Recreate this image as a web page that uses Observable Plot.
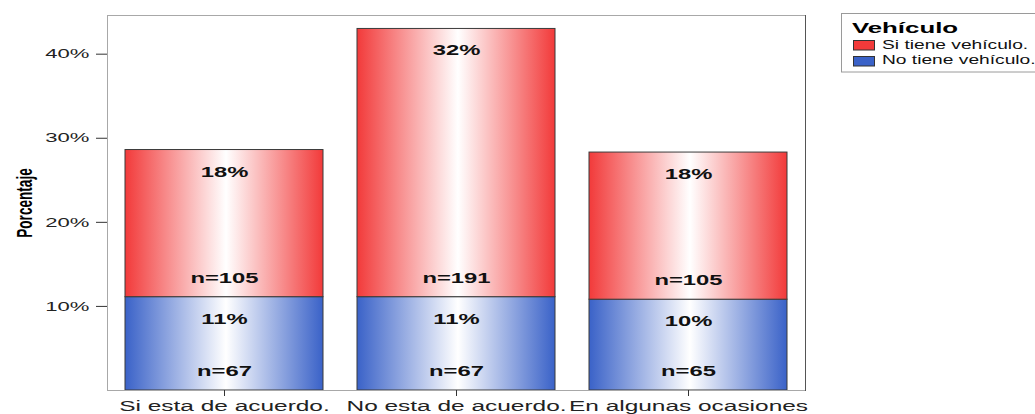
<!DOCTYPE html>
<html>
<head>
<meta charset="utf-8">
<script src="https://cdn.jsdelivr.net/npm/d3@7"></script>
<script src="https://cdn.jsdelivr.net/npm/@observablehq/plot@0.6"></script>
<style>
  body { margin: 0; background: #fff; }
  #wrap { position: relative; width: 1035px; height: 414px; overflow: hidden; font-family: "Liberation Sans", Arial, sans-serif; }
  #chart { position: absolute; left: 0; top: 0; }
  #legend { position: absolute; left: 841px; top: 13px; }
</style>
</head>
<body>
<div id="wrap"><div id="chart"></div><div id="legend"></div></div>
<script>
// ---- data ----
const categories = ["Si esta de acuerdo.", "No esta de acuerdo.", "En algunas ocasiones"];
const seriesNames = ["No tiene vehículo.", "Si tiene vehículo."];
const noTienePct = [11.1, 11.1, 10.8];
const siTienePct = [17.5, 31.9, 17.5];
const noTieneN = [67, 67, 65];
const siTieneN = [105, 191, 105];
const noTieneLabel = ["11%", "11%", "10%"];
const siTieneLabel = ["18%", "32%", "18%"];
const yTicks = [10, 20, 30, 40];
const legendTitle = "Vehículo";
const yLabel = "Porcentaje";

const rows = [];
categories.forEach((c, i) => {
  rows.push({cat: c, series: seriesNames[0], pct: noTienePct[i], n: noTieneN[i], label: noTieneLabel[i], grad: "url(#gradBlue)"});
  rows.push({cat: c, series: seriesNames[1], pct: siTienePct[i], n: siTieneN[i], label: siTieneLabel[i], grad: "url(#gradRed)"});
});

const svg = Plot.plot({
  width: 1035,
  height: 414,
  marginLeft: 107,
  marginRight: 230,
  marginTop: 15,
  marginBottom: 24,
  style: {fontFamily: "'Liberation Sans', Arial, sans-serif", background: "#fff", color: "#222"},
  x: {domain: categories, paddingInner: 0.148, paddingOuter: 0.077, label: null},
  y: {domain: [0, 44.6], label: null},
  color: {type: "identity"},
  marks: [
    Plot.barY(rows, {x: "cat", y: "pct", fill: "grad", stroke: "#3a3a3a", strokeWidth: 1}),
    Plot.text(rows, Plot.stackY2({x: "cat", y: "pct", text: "label", dy: 22, fontWeight: "bold", fontSize: 14, fill: "#111"})),
    Plot.text(rows, Plot.stackY1({x: "cat", y: "pct", text: d => "n=" + d.n, dy: -19, fontWeight: "bold", fontSize: 14, fill: "#111"})),
    Plot.frame({stroke: "#a8a8a8"}),
    Plot.frame({anchor: "right", stroke: "#555"}),
    Plot.axisY({ticks: yTicks, tickFormat: d => d + "%", tickSize: 11, tickPadding: 7, fontSize: 13, label: yLabel, labelAnchor: "center", labelArrow: "none", stroke: "#333"}),
    Plot.axisX({tickSize: 6, tickPadding: 4, fontSize: 15, label: null, stroke: "#333"})
  ]
});

// gradient definitions referenced by the bars
const defs = d3.select(svg).insert("defs", ":first-child");
function grad(id, edge) {
  const g = defs.append("linearGradient").attr("id", id).attr("x1", "0").attr("x2", "1").attr("y1", "0").attr("y2", "0");
  g.append("stop").attr("offset", "0%").attr("stop-color", edge);
  g.append("stop").attr("offset", "51%").attr("stop-color", "#ffffff");
  g.append("stop").attr("offset", "100%").attr("stop-color", edge);
}
grad("gradRed", "#f23a3a");
grad("gradBlue", "#3a62c8");

// horizontally stretched text, as in the reference
function stretch(el, sx, sy) {
  const t = el.getAttribute("transform") || "";
  el.setAttribute("transform", `${t} scale(${sx},${sy})`);
}
let yLabelEl = null;
d3.select(svg).selectAll("text").each(function() {
  if (this.textContent.includes(yLabel)) { yLabelEl = this; return; }
  const parent = this.closest("g");
  const aria = parent ? (parent.getAttribute("aria-label") || "") : "";
  stretch(this, aria.includes("x-axis") ? 1.63 : 1.7, 1);
});
if (!yLabelEl) {
  yLabelEl = d3.select(svg).append("text").node();
}
const lg = yLabelEl.parentNode;
if (lg && lg !== svg) lg.removeAttribute("transform");
d3.select(yLabelEl)
  .text(yLabel)
  .attr("x", null).attr("y", null).attr("dy", null)
  .attr("transform", "translate(26,203) rotate(-90) scale(0.8,1.35)")
  .attr("text-anchor", "middle")
  .attr("dominant-baseline", "middle")
  .style("font-size", "17px")
  .style("font-weight", "bold")
  .style("fill", "#000");

document.getElementById("chart").appendChild(svg);

// legend
const leg = d3.select("#legend").append("svg").attr("width", 194).attr("height", 60)
  .style("font-family", "'Liberation Sans', Arial, sans-serif");
leg.append("rect").attr("x", 0.5).attr("y", 0.5).attr("width", 220).attr("height", 58.5).attr("fill", "#fff").attr("stroke", "#9a9a9a");
leg.append("text").text(legendTitle).attr("transform", "translate(11,20) scale(1.72,1)")
  .style("font-size", "15px").style("font-weight", "bold").attr("fill", "#000");
const legendColors = ["#f23a3a", "#3a62c8"];
const legendItems = [seriesNames[1], seriesNames[0]];
legendItems.forEach((name, i) => {
  leg.append("rect").attr("x", 12.5).attr("y", 27.5 + i * 16).attr("width", 21).attr("height", 9.5)
    .attr("fill", legendColors[i]).attr("stroke", "#333");
  leg.append("text").text(name).attr("transform", `translate(41,${36 + i * 15}) scale(1.6,1)`)
    .style("font-size", "12px").attr("fill", "#111");
});
</script>
</body>
</html>
